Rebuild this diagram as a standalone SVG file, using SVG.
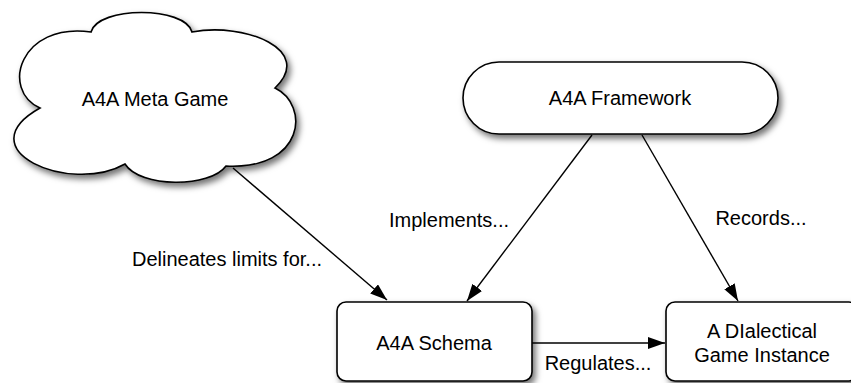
<svg xmlns="http://www.w3.org/2000/svg" width="851" height="383" viewBox="0 0 851 383">
  <defs>
    <filter id="shadow" x="-20%" y="-20%" width="140%" height="150%">
      <feDropShadow dx="3" dy="4" stdDeviation="3" flood-color="#000" flood-opacity="0.55"/>
    </filter>
    <marker id="arrow" markerUnits="userSpaceOnUse" markerWidth="18" markerHeight="13" refX="17" refY="6" orient="auto">
      <path d="M0,0 L17,6 L0,12 z" fill="#000"/>
    </marker>
  </defs>
  <style>
    .shape { fill: #fff; stroke: #000; stroke-width: 1.6; filter: url(#shadow); }
    .label { font-family: "Liberation Sans", Arial, sans-serif; font-size: 20px; fill: #000; text-anchor: middle; }
    .edge { fill: none; stroke: #000; stroke-width: 1.4; marker-end: url(#arrow); }
  </style>
  <rect width="851" height="383" fill="#fff"/>

  <g id="connectors">
    <line class="edge" x1="233" y1="168" x2="387" y2="300"/>
    <line class="edge" x1="592" y1="135" x2="467" y2="301"/>
    <line class="edge" x1="642" y1="135" x2="738" y2="301"/>
    <line class="edge" x1="532" y1="343" x2="665" y2="343"/>
    <text class="label" x="227" y="266">Delineates limits for...</text>
    <text class="label" x="449" y="227">Implements...</text>
    <text class="label" x="761" y="225">Records...</text>
    <text class="label" x="598" y="370">Regulates...</text>
  </g>

  <g id="meta-game">
    <path class="shape" d="M91,32 C98,6 185,6 192,32 C245,22 315,50 275,88 C310,105 305,170 226,166 C210,188 140,188 125,164 C70,195 -35,150 40,108 C0,90 20,22 91,32 Z"/>
    <text class="label" x="155" y="106">A4A Meta Game</text>
  </g>

  <g id="framework">
    <rect class="shape" x="463" y="62" width="315" height="72" rx="36" ry="36"/>
    <text class="label" x="620" y="105">A4A Framework</text>
  </g>

  <g id="schema">
    <rect class="shape" x="337" y="302" width="195" height="79" rx="9" ry="9"/>
    <text class="label" x="434" y="350">A4A Schema</text>
  </g>

  <g id="game-instance">
    <rect class="shape" x="666" y="302" width="192" height="79" rx="9" ry="9"/>
    <text class="label" x="762" y="338">A DIalectical</text>
    <text class="label" x="762" y="362">Game Instance</text>
  </g>
</svg>
